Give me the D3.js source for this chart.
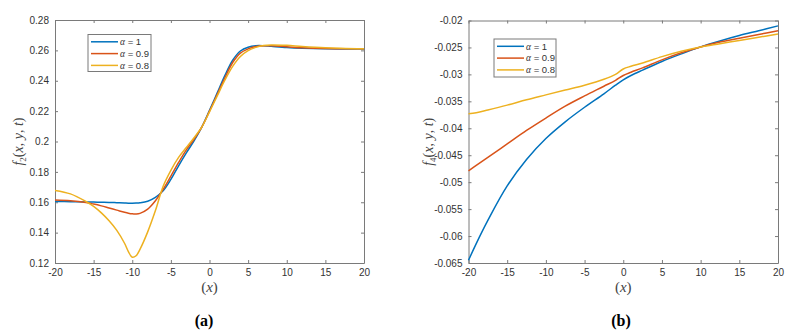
<!DOCTYPE html>
<html>
<head>
<meta charset="utf-8">
<script src="https://cdn.jsdelivr.net/npm/d3@7"></script>
<style>
  body { margin: 0; background: #fff; }
  svg { display: block; }
  .tick text { font-family: "Liberation Sans", Arial, sans-serif; font-size: 10px; fill: #333; }
  .math { font-family: "Liberation Serif", "DejaVu Serif", serif; }
</style>
</head>
<body>
<div id="chart"></div>
<script>
// panel (a): f2(x,y,t)
const xA = [-20, -18, -16, -15, -14, -13, -12, -11, -10.5, -10, -9.5, -9, -8, -7, -6, -5, -4, -3, -2, -1, 0, 1, 2, 3, 4, 5, 6, 7, 8, 10, 12, 15, 20];
const f2a1  = [0.1605, 0.1604, 0.1602, 0.1601, 0.1600, 0.1599, 0.1597, 0.1595, 0.1594, 0.1594, 0.1595, 0.1597, 0.1607, 0.1632, 0.1675, 0.1750, 0.1840, 0.1925, 0.2005, 0.2095, 0.2205, 0.2320, 0.2435, 0.2535, 0.2596, 0.2621, 0.2631, 0.2631, 0.2627, 0.2619, 0.2614, 0.2610, 0.2609];
const f2a09 = [0.1615, 0.1610, 0.1598, 0.1588, 0.1576, 0.1562, 0.1548, 0.1534, 0.1528, 0.1524, 0.1523, 0.1527, 0.1555, 0.1610, 0.1685, 0.1772, 0.1862, 0.1945, 0.2015, 0.2095, 0.2200, 0.2310, 0.2420, 0.2520, 0.2582, 0.2610, 0.2625, 0.2631, 0.2630, 0.2624, 0.2617, 0.2612, 0.2610];
const f2a08 = [0.1678, 0.1655, 0.1605, 0.1573, 0.1530, 0.1478, 0.1415, 0.1330, 0.1275, 0.1238, 0.1248, 0.1290, 0.1405, 0.1545, 0.1705, 0.1810, 0.1895, 0.1960, 0.2025, 0.2095, 0.2195, 0.2300, 0.2405, 0.2495, 0.2560, 0.2598, 0.2620, 0.2632, 0.2636, 0.2633, 0.2626, 0.2618, 0.2611];

// panel (b): f4(x,y,t)
const xB = [-20, -19, -17.5, -15, -12.5, -10, -7.5, -5, -2.5, -1, 0, 1, 2.5, 5, 7.5, 10, 12.5, 15, 17.5, 20];
const f4a1  = [-0.0645, -0.0614, -0.0571, -0.0507, -0.0458, -0.0419, -0.0388, -0.0361, -0.0336, -0.0320, -0.0310, -0.0302, -0.0292, -0.0276, -0.0262, -0.0249, -0.0238, -0.0228, -0.0219, -0.0210];
const f4a09 = [-0.0479, -0.0469, -0.0454, -0.0429, -0.0404, -0.0381, -0.0359, -0.0340, -0.0322, -0.0311, -0.0302, -0.0296, -0.0288, -0.0273, -0.0260, -0.0249, -0.0240, -0.0233, -0.0226, -0.0219];
const f4a08 = [-0.0373, -0.0371, -0.0366, -0.0357, -0.0347, -0.0338, -0.0329, -0.0320, -0.0309, -0.0300, -0.0290, -0.0285, -0.0279, -0.0267, -0.0257, -0.0249, -0.0243, -0.0237, -0.0231, -0.0225];

const seriesNames = ["1", "0.9", "0.8"];
const colors = ["#0072BD", "#D95319", "#EDB120"];
const xTicks = [-20, -15, -10, -5, 0, 5, 10, 15, 20];
const yTicksA = [0.12, 0.14, 0.16, 0.18, 0.2, 0.22, 0.24, 0.26, 0.28];
const yTicksB = [-0.065, -0.06, -0.055, -0.05, -0.045, -0.04, -0.035, -0.03, -0.025, -0.02];

const W = 795, H = 332;
const svg = d3.select("#chart").append("svg").attr("width", W).attr("height", H);

const panels = [
    { left: 55, right: 364, top: 20, bottom: 263, xs: xA, ys: [f2a1, f2a09, f2a08], yDomain: [0.12, 0.28], yTicks: yTicksA,
      sub: "2", labelX: 23, legend: { x: 88, y: 34.5, w: 63, h: 37 }, caption: "(a)", capX: 204 },
    { left: 468.5, right: 778, top: 20.5, bottom: 263, xs: xB, ys: [f4a1, f4a09, f4a08], yDomain: [-0.065, -0.02], yTicks: yTicksB,
      sub: "4", labelX: 433, legend: { x: 494, y: 39, w: 62, h: 38 }, caption: "(b)", capX: 621 }
];

const fmt = d => String(+d.toFixed(3));

panels.forEach(p => {
    const x = d3.scaleLinear().domain([-20, 20]).range([p.left, p.right]);
    const y = d3.scaleLinear().domain(p.yDomain).range([p.bottom, p.top]);
    const g = svg.append("g");

    // box with inward ticks on all sides
    g.append("g").attr("transform", `translate(0,${p.bottom})`)
        .call(d3.axisBottom(x).tickValues(xTicks).tickSizeInner(-3).tickSizeOuter(0).tickPadding(6).tickFormat(fmt));
    g.append("g").attr("transform", `translate(0,${p.top})`)
        .call(d3.axisTop(x).tickValues(xTicks).tickSizeInner(-3).tickSizeOuter(0).tickFormat(""));
    g.append("g").attr("transform", `translate(${p.left},0)`)
        .call(d3.axisLeft(y).tickValues(p.yTicks).tickSizeInner(-3).tickSizeOuter(0).tickPadding(6).tickFormat(fmt));
    g.append("g").attr("transform", `translate(${p.right},0)`)
        .call(d3.axisRight(y).tickValues(p.yTicks).tickSizeInner(-3).tickSizeOuter(0).tickFormat(""));
    g.selectAll(".domain, .tick line").attr("stroke", "#7a7a7a").attr("stroke-width", 1);

    const line = d3.line().x((d, i) => x(p.xs[i])).y(d => y(d)).curve(d3.curveCatmullRom.alpha(0.5));
    p.ys.forEach((vals, k) => {
        g.append("path").datum(vals)
            .attr("fill", "none")
            .attr("stroke", colors[k])
            .attr("stroke-width", 1.5)
            .attr("d", line);
    });

    // legend
    const L = p.legend;
    const lg = g.append("g");
    lg.append("rect").attr("x", L.x).attr("y", L.y).attr("width", L.w).attr("height", L.h)
        .attr("fill", "#fff").attr("stroke", "#7a7a7a").attr("stroke-width", 1);
    seriesNames.forEach((s, k) => {
        const ry = L.y + 7.3 + k * 11.8;
        lg.append("line").attr("x1", L.x + 3).attr("x2", L.x + 30).attr("y1", ry).attr("y2", ry)
            .attr("stroke", colors[k]).attr("stroke-width", 1.5);
        const t = lg.append("text").attr("x", L.x + 32).attr("y", ry + 3.3)
            .style("font-family", "'Liberation Sans', Arial, sans-serif").style("font-size", "9.5px").attr("fill", "#333");
        t.append("tspan").attr("class", "math").style("font-style", "italic").text("α");
        t.append("tspan").text(" = " + s);
    });

    // axis labels
    const cx = (p.left + p.right) / 2;
    const xl = g.append("text").attr("class", "math").attr("x", cx).attr("y", 292)
        .attr("text-anchor", "middle").style("font-size", "15px").attr("fill", "#444");
    xl.append("tspan").text("(");
    xl.append("tspan").style("font-style", "italic").text("x");
    xl.append("tspan").text(")");

    const cy = (p.top + p.bottom) / 2;
    const yl = g.append("text").attr("class", "math")
        .attr("transform", `translate(${p.labelX},${cy}) rotate(-90)`)
        .attr("text-anchor", "middle").style("font-size", "14px").attr("fill", "#444");
    yl.append("tspan").style("font-style", "italic").text("f");
    yl.append("tspan").attr("dy", 3).style("font-size", "9px").text(p.sub);
    yl.append("tspan").attr("dy", -3).text("(");
    yl.append("tspan").style("font-style", "italic").text("x");
    yl.append("tspan").text(", ");
    yl.append("tspan").style("font-style", "italic").text("y");
    yl.append("tspan").text(", ");
    yl.append("tspan").style("font-style", "italic").text("t");
    yl.append("tspan").text(")");

    // caption
    g.append("text").attr("x", p.capX).attr("y", 326).attr("text-anchor", "middle")
        .style("font-family", "'Liberation Serif', 'Times New Roman', serif")
        .style("font-size", "16px").style("font-weight", "bold").attr("fill", "#000")
        .text(p.caption);
});
</script>
</body>
</html>
